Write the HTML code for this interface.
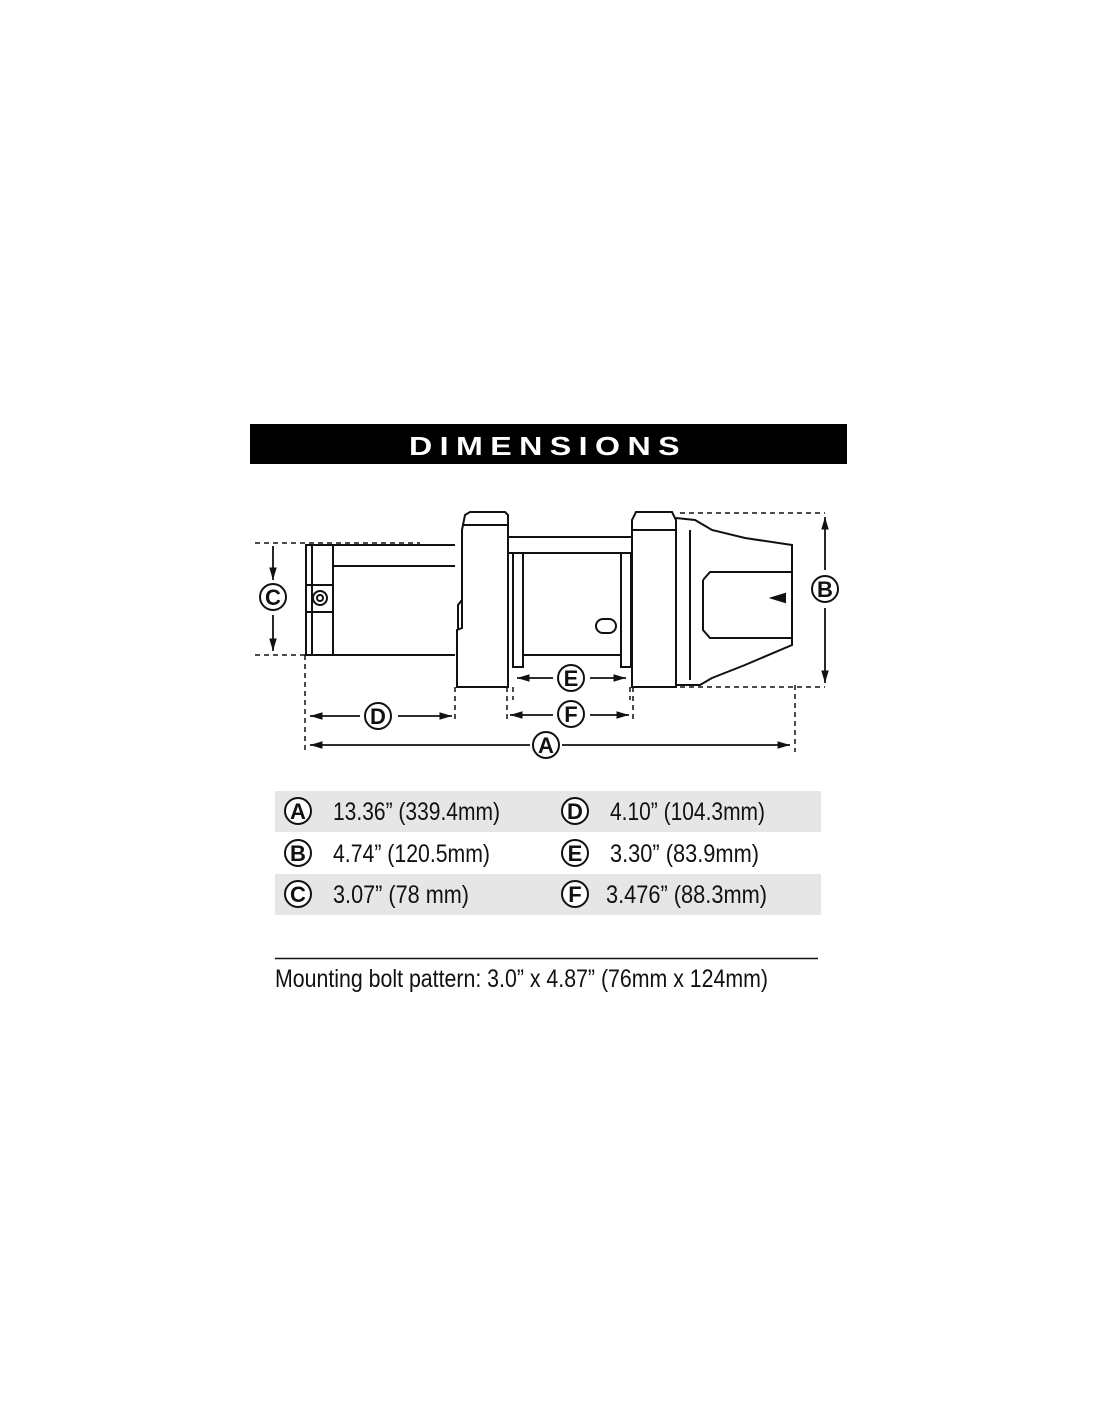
<!DOCTYPE html>
<html><head><meta charset="utf-8"><style>
html,body{margin:0;padding:0;background:#fff;}
svg{display:block;}
text{font-family:"Liberation Sans Narrow","Liberation Sans",sans-serif;fill:#111;}
</style></head><body>
<svg width="1100" height="1422" viewBox="0 0 1100 1422" xmlns="http://www.w3.org/2000/svg">
<defs>
<marker id="ar" viewBox="0 0 10 10" refX="10" refY="5" markerWidth="7" markerHeight="7" orient="auto-start-reverse"><path d="M0,2 L10,5 L0,8 z" fill="#111"/></marker>
</defs>
<rect x="250" y="424" width="597" height="40" fill="#000"/>
<text x="548" y="455" text-anchor="middle" font-family="Liberation Sans" font-weight="bold" font-size="26" style="fill:#fff;letter-spacing:6px" textLength="278" lengthAdjust="spacingAndGlyphs">DIMENSIONS</text>

<g fill="none" stroke="#111" stroke-width="2">
<g stroke-dasharray="5,4" stroke-width="1.5">
<line x1="255" y1="543" x2="420" y2="543"/>
<line x1="255" y1="655" x2="410" y2="655"/>
<line x1="680" y1="513" x2="825" y2="513"/>
<line x1="680" y1="687" x2="825" y2="687"/>
<line x1="305" y1="655" x2="305" y2="752"/>
<line x1="455" y1="687" x2="455" y2="722"/>
<line x1="507" y1="687" x2="507" y2="722"/>
<line x1="513" y1="687" x2="513" y2="700"/>
<line x1="630" y1="687" x2="630" y2="700"/>
<line x1="633" y1="687" x2="633" y2="722"/>
<line x1="795" y1="685" x2="795" y2="752"/>
</g>
<rect x="306" y="545" width="27" height="110"/>
<line x1="333" y1="545" x2="455" y2="545"/>
<line x1="333" y1="566" x2="455" y2="566"/>
<line x1="333" y1="655" x2="455" y2="655"/>
<line x1="312" y1="545" x2="312" y2="655"/>
<circle cx="320" cy="598" r="7"/><circle cx="320" cy="598" r="3"/>
<line x1="306" y1="585" x2="333" y2="585"/><line x1="306" y1="612" x2="333" y2="612"/>
<path d="M457,687 V630 L462,628 V530 L465,515 L470,512 H505 L508,515 V687 Z"/>
<line x1="462" y1="525" x2="508" y2="525"/>
<path d="M462,600 L458,605 V630"/>
<line x1="508" y1="537" x2="632" y2="537"/>
<line x1="508" y1="553" x2="632" y2="553"/>
<rect x="513" y="553" width="10" height="114"/>
<line x1="523" y1="655" x2="621" y2="655"/>
<rect x="621" y="553" width="10" height="114"/>
<rect x="596" y="619" width="20" height="14" rx="7"/>
<path d="M632,687 V520 L636,512 H672 L676,520 V687 Z"/>
<line x1="632" y1="530" x2="676" y2="530"/>
<path d="M676,518 L695,520 L712,530 L745,538 L792,545 V645 L745,665 L712,678 L700,685 H676"/>
<path d="M690,530 V680"/>
<path d="M703,580 L710,572 H792 M703,580 V630 L710,638 H792"/>
<path d="M772,598 L785,594 L785,602 Z" fill="#111"/>
</g>
<g stroke="#111" stroke-width="1.8" fill="none">
<line x1="273" y1="546" x2="273" y2="580" marker-end="url(#ar)"/>
<line x1="273" y1="615" x2="273" y2="651" marker-end="url(#ar)"/>
<line x1="825" y1="570" x2="825" y2="517" marker-end="url(#ar)"/>
<line x1="825" y1="608" x2="825" y2="683" marker-end="url(#ar)"/>
<line x1="360" y1="716" x2="310" y2="716" marker-end="url(#ar)"/>
<line x1="398" y1="716" x2="452" y2="716" marker-end="url(#ar)"/>
<line x1="553" y1="678" x2="517" y2="678" marker-end="url(#ar)"/>
<line x1="590" y1="678" x2="626" y2="678" marker-end="url(#ar)"/>
<line x1="553" y1="715" x2="510" y2="715" marker-end="url(#ar)"/>
<line x1="590" y1="715" x2="629" y2="715" marker-end="url(#ar)"/>
<line x1="530" y1="745" x2="310" y2="745" marker-end="url(#ar)"/>
<line x1="562" y1="745" x2="790" y2="745" marker-end="url(#ar)"/>
</g>
<g fill="#fff" stroke="#111" stroke-width="2">
<circle cx="273" cy="597" r="13"/><circle cx="825" cy="589" r="13"/>
<circle cx="378" cy="716" r="13"/><circle cx="571" cy="678" r="13"/>
<circle cx="571" cy="714" r="13"/><circle cx="546" cy="745" r="13"/>
</g>
<g font-size="22" text-anchor="middle" font-weight="bold">
<text x="273" y="605">C</text><text x="825" y="597">B</text>
<text x="378" y="724">D</text><text x="571" y="686">E</text>
<text x="571" y="722">F</text><text x="546" y="753">A</text>
</g>
<rect x="275" y="791" width="546" height="41" fill="#e6e6e6"/>
<rect x="275" y="874" width="546" height="41" fill="#e6e6e6"/>
<g fill="#fff" stroke="#111" stroke-width="2">
<circle cx="298" cy="811" r="13"/><circle cx="298" cy="853" r="13"/><circle cx="298" cy="894" r="13"/>
<circle cx="575" cy="811" r="13"/><circle cx="575" cy="853" r="13"/><circle cx="575" cy="894" r="13"/>
</g>
<g font-size="22" text-anchor="middle" font-weight="bold">
<text x="298" y="819">A</text><text x="298" y="861">B</text><text x="298" y="902">C</text>
<text x="575" y="819">D</text><text x="575" y="861">E</text><text x="575" y="902">F</text>
</g>
<g font-size="25">
<text x="333" y="820" textLength="167" lengthAdjust="spacingAndGlyphs">13.36” (339.4mm)</text>
<text x="333" y="862" textLength="157" lengthAdjust="spacingAndGlyphs">4.74” (120.5mm)</text>
<text x="333" y="903" textLength="136" lengthAdjust="spacingAndGlyphs">3.07” (78 mm)</text>
<text x="610" y="820" textLength="155" lengthAdjust="spacingAndGlyphs">4.10” (104.3mm)</text>
<text x="610" y="862" textLength="149" lengthAdjust="spacingAndGlyphs">3.30” (83.9mm)</text>
<text x="606" y="903" textLength="161" lengthAdjust="spacingAndGlyphs">3.476” (88.3mm)</text>
</g>
<line x1="275" y1="958.5" x2="818" y2="958.5" stroke="#111" stroke-width="1.5"/>
<text x="275" y="987" font-size="25" textLength="493" lengthAdjust="spacingAndGlyphs">Mounting bolt pattern: 3.0” x 4.87” (76mm x 124mm)</text>
</svg>
</body></html>
